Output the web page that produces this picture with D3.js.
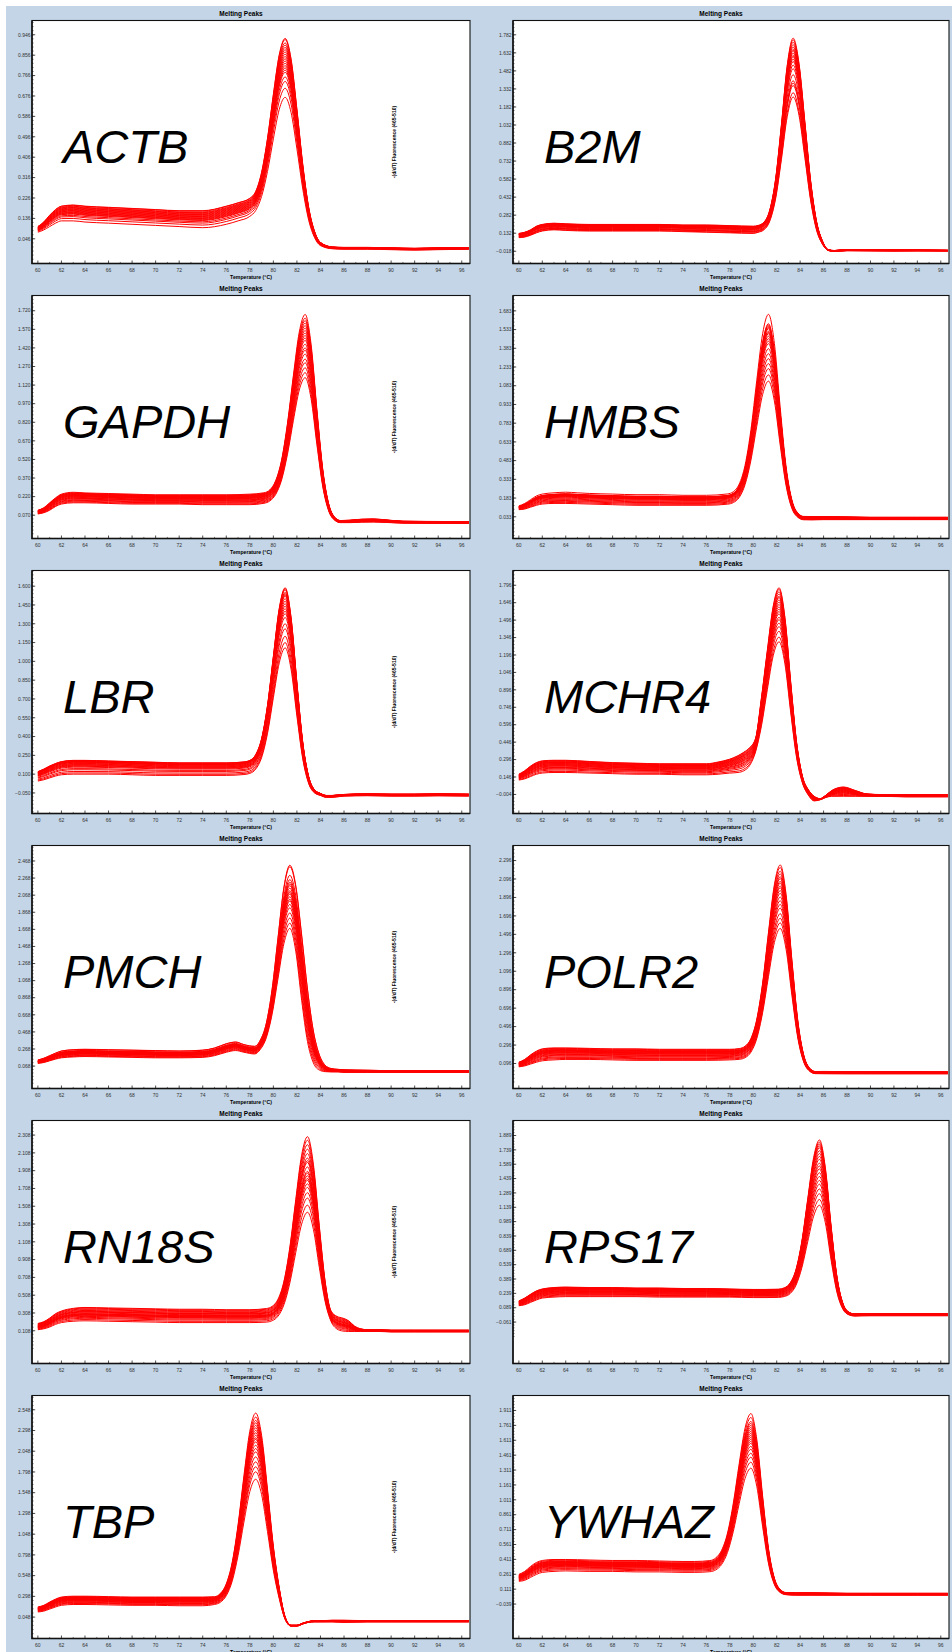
<!DOCTYPE html>
<html lang="en">

<head>
    <meta charset="UTF-8">
    <meta name="viewport" content="width=device-width, initial-scale=1.0">
    <script src="https://cdnjs.cloudflare.com/ajax/libs/d3/7.8.5/d3.min.js"></script>
    <title>Melting Peaks</title>
    <style>
        body { margin: 0; background: #ffffff; }
        svg text { font-family: "Liberation Sans", Arial, sans-serif; }
    </style>
</head>

<body>
    <svg id="chart" width="952" height="1652"></svg>
    <script>
        // shared x axis (temperature, deg C)
        var xTicks = [60, 62, 64, 66, 68, 70, 72, 74, 76, 78, 80, 82, 84, 86, 88, 90, 92, 94, 96];
        var xDomain = [59.5, 96.7];

        // ACTB
        var actbTemp = [60, 60.5, 61, 61.5, 62, 63, 64, 66, 68, 70, 72, 74, 76, 77, 78, 78.5, 79, 79.5, 80, 80.5, 81, 81.5, 82, 82.5, 83, 83.5, 84, 85, 86, 88, 90, 92, 94, 96.6];
        var actbHi = [0.10, 0.12, 0.15, 0.175, 0.19, 0.195, 0.19, 0.185, 0.18, 0.175, 0.17, 0.17, 0.19, 0.205, 0.225, 0.255, 0.339, 0.488, 0.683, 0.858, 0.93, 0.84, 0.617, 0.372, 0.184, 0.078, 0.03, 0.01, 0.008, 0.008, 0.006, 0.004, 0.006, 0.006];
        var actbLo = [0.075, 0.085, 0.10, 0.115, 0.125, 0.125, 0.12, 0.115, 0.11, 0.105, 0.10, 0.095, 0.11, 0.125, 0.145, 0.171, 0.233, 0.343, 0.487, 0.617, 0.67, 0.604, 0.443, 0.265, 0.128, 0.051, 0.016, 0.002, 0, 0, -0.002, -0.004, -0.002, 0];
        var actbPeaks = [0.93, 0.925, 0.91, 0.90, 0.89, 0.88, 0.87, 0.86, 0.85, 0.84, 0.83, 0.82, 0.81, 0.80, 0.79, 0.78, 0.76, 0.74, 0.71, 0.67];
        var actbTicks = [0.046, 0.136, 0.226, 0.316, 0.406, 0.496, 0.586, 0.676, 0.766, 0.856, 0.946];
        var actbRange = [-0.063, 1.009];

        // B2M
        var b2mTemp = [60, 60.5, 61, 61.5, 62, 63, 64, 66, 68, 70, 72, 74, 76, 78, 80, 80.4, 80.9, 81.4, 81.9, 82.4, 82.9, 83.4, 83.9, 84.4, 84.9, 85.4, 85.9, 86.4, 86.9, 88, 90, 92, 94, 96.6];
        var b2mHi = [0.13, 0.14, 0.16, 0.19, 0.205, 0.215, 0.21, 0.205, 0.205, 0.205, 0.205, 0.20, 0.20, 0.195, 0.19, 0.196, 0.223, 0.322, 0.579, 1.033, 1.530, 1.754, 1.546, 1.060, 0.563, 0.229, 0.068, -0.005, -0.012, -0.004, -0.006, -0.008, -0.008, -0.01];
        var b2mLo = [0.095, 0.10, 0.115, 0.135, 0.15, 0.16, 0.155, 0.15, 0.15, 0.15, 0.15, 0.145, 0.14, 0.135, 0.13, 0.139, 0.159, 0.231, 0.416, 0.744, 1.103, 1.265, 1.114, 0.762, 0.401, 0.158, 0.041, -0.012, -0.02, -0.014, -0.015, -0.016, -0.015, -0.016];
        var b2mPeaks = [1.754, 1.74, 1.72, 1.70, 1.68, 1.66, 1.65, 1.63, 1.61, 1.60, 1.58, 1.56, 1.53, 1.50, 1.45, 1.40, 1.38, 1.36, 1.30, 1.265];
        var b2mTicks = [-0.018, 0.132, 0.282, 0.432, 0.582, 0.732, 0.882, 1.032, 1.182, 1.332, 1.482, 1.632, 1.782];
        var b2mRange = [-0.120, 1.901];

        // GAPDH
        var gapdhTemp = [60, 60.5, 61, 61.5, 62, 63, 64, 66, 68, 70, 72, 74, 76, 78, 79.2, 79.7, 80.2, 80.7, 81.2, 81.7, 82.2, 82.7, 83.2, 83.7, 84.2, 84.7, 85.2, 85.7, 86.5, 87.5, 88.5, 89.5, 91, 93, 96.6];
        var gapdhHi = [0.11, 0.13, 0.17, 0.21, 0.24, 0.255, 0.25, 0.245, 0.24, 0.235, 0.235, 0.235, 0.235, 0.24, 0.251, 0.275, 0.350, 0.517, 0.813, 1.198, 1.548, 1.69, 1.451, 0.920, 0.436, 0.161, 0.055, 0.027, 0.03, 0.038, 0.04, 0.033, 0.022, 0.02, 0.018];
        var gapdhLo = [0.08, 0.09, 0.11, 0.14, 0.16, 0.17, 0.17, 0.165, 0.16, 0.16, 0.16, 0.155, 0.155, 0.155, 0.166, 0.185, 0.238, 0.355, 0.563, 0.834, 1.080, 1.18, 1.012, 0.638, 0.298, 0.104, 0.030, 0.010, 0.01, 0.014, 0.015, 0.012, 0.006, 0.005, 0.004];
        var gapdhPeaks = [1.69, 1.66, 1.64, 1.62, 1.60, 1.58, 1.56, 1.54, 1.52, 1.50, 1.48, 1.45, 1.42, 1.40, 1.37, 1.33, 1.30, 1.26, 1.22, 1.18];
        var gapdhTicks = [0.070, 0.220, 0.370, 0.520, 0.670, 0.820, 0.970, 1.120, 1.270, 1.420, 1.570, 1.720];
        var gapdhRange = [-0.118, 1.843];

        // HMBS
        var hmbsTemp = [60, 60.5, 61, 61.5, 62, 63, 64, 65, 66, 68, 70, 72, 74, 76, 77.8, 78.3, 78.8, 79.3, 79.8, 80.3, 80.8, 81.3, 81.8, 82.3, 82.8, 83.3, 83.8, 84.3, 85, 86, 88, 90, 92, 94, 96.6];
        var hmbsHi = [0.12, 0.14, 0.17, 0.20, 0.215, 0.225, 0.23, 0.225, 0.22, 0.215, 0.21, 0.21, 0.205, 0.205, 0.216, 0.234, 0.295, 0.446, 0.730, 1.128, 1.500, 1.655, 1.423, 0.906, 0.435, 0.167, 0.064, 0.036, 0.035, 0.035, 0.033, 0.03, 0.03, 0.03, 0.03];
        var hmbsLo = [0.09, 0.095, 0.11, 0.125, 0.135, 0.14, 0.14, 0.138, 0.135, 0.13, 0.125, 0.125, 0.125, 0.125, 0.134, 0.147, 0.188, 0.291, 0.486, 0.759, 1.014, 1.12, 0.961, 0.606, 0.283, 0.099, 0.029, 0.009, 0.008, 0.01, 0.01, 0.01, 0.01, 0.01, 0.01];
        var hmbsPeaks = [1.655, 1.58, 1.57, 1.56, 1.55, 1.54, 1.52, 1.51, 1.50, 1.48, 1.46, 1.44, 1.42, 1.38, 1.34, 1.30, 1.26, 1.22, 1.17, 1.12];
        var hmbsTicks = [0.033, 0.183, 0.333, 0.483, 0.633, 0.783, 0.933, 1.083, 1.233, 1.383, 1.533, 1.683];
        var hmbsRange = [-0.141, 1.806];

        // LBR
        var lbrTemp = [60, 60.5, 61, 61.5, 62, 63, 64, 66, 68, 70, 72, 74, 76, 77.5, 78, 78.5, 79, 79.5, 80, 80.5, 81, 81.5, 82, 82.5, 83, 83.5, 84, 84.5, 85, 86, 88, 90, 92, 94, 96.6];
        var lbrHi = [0.12, 0.14, 0.165, 0.185, 0.20, 0.21, 0.21, 0.205, 0.20, 0.195, 0.19, 0.19, 0.19, 0.198, 0.210, 0.256, 0.383, 0.647, 1.040, 1.423, 1.587, 1.352, 0.828, 0.350, 0.079, -0.025, -0.054, -0.07, -0.07, -0.062, -0.058, -0.06, -0.06, -0.058, -0.06];
        var lbrLo = [0.045, 0.055, 0.07, 0.085, 0.095, 0.10, 0.10, 0.10, 0.095, 0.09, 0.09, 0.09, 0.09, 0.097, 0.106, 0.140, 0.232, 0.424, 0.710, 0.988, 1.108, 0.939, 0.563, 0.220, 0.025, -0.05, -0.07, -0.085, -0.085, -0.075, -0.072, -0.075, -0.075, -0.073, -0.075];
        var lbrPeaks = [1.587, 1.58, 1.57, 1.55, 1.54, 1.53, 1.52, 1.50, 1.48, 1.46, 1.44, 1.42, 1.40, 1.38, 1.35, 1.30, 1.26, 1.20, 1.15, 1.108];
        var lbrTicks = [-0.050, 0.100, 0.250, 0.400, 0.550, 0.700, 0.850, 1.000, 1.150, 1.300, 1.450, 1.600];
        var lbrRange = [-0.214, 1.725];

        // MCHR4
        var mchr4Temp = [60, 60.5, 61, 61.5, 62, 63, 64, 66, 68, 70, 72, 74, 76, 77, 78, 78.7, 79.2, 79.7, 80.2, 80.7, 81.2, 81.7, 82.2, 82.7, 83.2, 83.7, 84.2, 84.7, 85.2, 85.7, 86.2, 86.7, 87.7, 88.7, 89.7, 91, 93, 96.6];
        var mchr4Hi = [0.17, 0.20, 0.24, 0.27, 0.285, 0.29, 0.29, 0.28, 0.27, 0.265, 0.26, 0.26, 0.26, 0.275, 0.30, 0.33, 0.36, 0.40, 0.48, 0.83, 1.236, 1.616, 1.774, 1.52, 0.956, 0.442, 0.150, 0.037, -0.02, -0.04, -0.01, 0.03, 0.06, 0.03, 0.0, -0.005, -0.005, -0.005];
        var mchr4Lo = [0.12, 0.13, 0.15, 0.17, 0.18, 0.185, 0.185, 0.18, 0.175, 0.17, 0.17, 0.165, 0.165, 0.17, 0.18, 0.185, 0.20, 0.246, 0.364, 0.587, 0.898, 1.189, 1.31, 1.12, 0.697, 0.311, 0.093, -0.01, -0.06, -0.05, -0.03, -0.02, -0.02, -0.02, -0.02, -0.02, -0.025, -0.025];
        var mchr4Peaks = [1.774, 1.76, 1.74, 1.72, 1.70, 1.69, 1.67, 1.65, 1.63, 1.61, 1.59, 1.57, 1.55, 1.52, 1.50, 1.47, 1.44, 1.40, 1.35, 1.31];
        var mchr4Ticks = [-0.004, 0.146, 0.296, 0.446, 0.596, 0.746, 0.896, 1.046, 1.196, 1.346, 1.496, 1.646, 1.796];
        var mchr4Range = [-0.168, 1.923];

        // PMCH
        var pmchTemp = [60, 60.5, 61, 61.5, 62, 63, 64, 66, 68, 70, 72, 74, 75, 76, 76.8, 77.5, 78.4, 78.9, 79.4, 79.9, 80.4, 80.9, 81.4, 81.9, 82.4, 82.9, 83.4, 83.9, 84.4, 84.9, 85.5, 86, 88, 90, 92, 94, 96.6];
        var pmchHi = [0.14, 0.16, 0.19, 0.22, 0.245, 0.26, 0.265, 0.26, 0.255, 0.25, 0.245, 0.255, 0.28, 0.33, 0.35, 0.32, 0.30, 0.374, 0.569, 0.975, 1.578, 2.166, 2.418, 2.183, 1.605, 0.967, 0.478, 0.202, 0.078, 0.04, 0.03, 0.025, 0.02, 0.015, 0.015, 0.015, 0.015];
        var pmchLo = [0.10, 0.11, 0.13, 0.15, 0.165, 0.175, 0.18, 0.175, 0.17, 0.165, 0.165, 0.17, 0.19, 0.23, 0.25, 0.23, 0.21, 0.265, 0.40, 0.681, 1.098, 1.505, 1.68, 1.413, 0.84, 0.354, 0.105, 0.022, 0.003, 0, 0, -0.005, -0.005, -0.005, -0.005, -0.005, -0.005];
        var pmchPeaks = [2.418, 2.40, 2.30, 2.25, 2.22, 2.20, 2.18, 2.15, 2.12, 2.10, 2.08, 2.05, 2.02, 2.00, 1.96, 1.92, 1.86, 1.80, 1.74, 1.68];
        var pmchTicks = [0.068, 0.268, 0.468, 0.668, 0.868, 1.068, 1.268, 1.468, 1.668, 1.868, 2.068, 2.268, 2.468];
        var pmchRange = [-0.194, 2.649];

        // POLR2
        var polr2Temp = [60, 60.5, 61, 61.5, 62, 63, 64, 66, 68, 70, 72, 74, 76, 78, 78.8, 79.3, 79.8, 80.3, 80.8, 81.3, 81.8, 82.3, 82.8, 83.3, 83.8, 84.3, 84.8, 85.3, 86, 88, 90, 92, 94, 96.6];
        var polr2Hi = [0.11, 0.14, 0.19, 0.23, 0.255, 0.265, 0.265, 0.26, 0.255, 0.255, 0.25, 0.25, 0.25, 0.25, 0.258, 0.284, 0.367, 0.576, 0.969, 1.519, 2.034, 2.248, 1.927, 1.212, 0.560, 0.190, 0.047, 0.009, 0.01, 0.008, 0.006, 0.006, 0.006, 0.005];
        var polr2Lo = [0.06, 0.07, 0.09, 0.11, 0.125, 0.135, 0.14, 0.14, 0.135, 0.13, 0.13, 0.13, 0.13, 0.135, 0.141, 0.159, 0.219, 0.367, 0.648, 1.040, 1.407, 1.56, 1.334, 0.832, 0.373, 0.114, 0.013, -0.014, -0.015, -0.016, -0.016, -0.016, -0.016, -0.016];
        var polr2Peaks = [2.248, 2.22, 2.18, 2.15, 2.12, 2.10, 2.07, 2.05, 2.02, 2.00, 1.97, 1.94, 1.90, 1.86, 1.82, 1.78, 1.72, 1.67, 1.62, 1.56];
        var polr2Ticks = [0.096, 0.296, 0.496, 0.696, 0.896, 1.096, 1.296, 1.496, 1.696, 1.896, 2.096, 2.296];
        var polr2Range = [-0.175, 2.459];

        // RN18S
        var rn18sTemp = [60, 60.5, 61, 61.5, 62, 63, 64, 66, 68, 70, 72, 74, 76, 78, 79.4, 79.9, 80.4, 80.9, 81.4, 81.9, 82.4, 82.9, 83.4, 83.9, 84.4, 84.9, 85.4, 85.9, 86.4, 86.9, 87.4, 88, 89, 90, 92, 94, 96.6];
        var rn18sHi = [0.19, 0.21, 0.25, 0.30, 0.33, 0.36, 0.37, 0.365, 0.36, 0.355, 0.35, 0.35, 0.345, 0.345, 0.358, 0.383, 0.464, 0.666, 1.048, 1.582, 2.082, 2.29, 1.980, 1.290, 0.660, 0.33, 0.27, 0.25, 0.22, 0.16, 0.13, 0.12, 0.12, 0.115, 0.115, 0.115, 0.115];
        var rn18sLo = [0.12, 0.13, 0.15, 0.18, 0.20, 0.215, 0.22, 0.215, 0.21, 0.205, 0.20, 0.20, 0.20, 0.20, 0.205, 0.221, 0.273, 0.402, 0.646, 0.987, 1.307, 1.44, 1.248, 0.822, 0.434, 0.213, 0.128, 0.105, 0.10, 0.10, 0.10, 0.10, 0.10, 0.095, 0.095, 0.095, 0.095];
        var rn18sPeaks = [2.29, 2.25, 2.20, 2.15, 2.10, 2.05, 2.02, 2.00, 1.95, 1.90, 1.88, 1.85, 1.82, 1.80, 1.76, 1.72, 1.66, 1.60, 1.52, 1.44];
        var rn18sTicks = [0.108, 0.308, 0.508, 0.708, 0.908, 1.108, 1.308, 1.508, 1.708, 1.908, 2.108, 2.308];
        var rn18sRange = [-0.260, 2.472];

        // RPS17
        var rps17Temp = [60, 60.5, 61, 61.5, 62, 63, 64, 66, 68, 70, 72, 74, 76, 78, 80, 81, 82.15, 82.65, 83.15, 83.65, 84.15, 84.65, 85.15, 85.65, 86.15, 86.65, 87.15, 87.65, 88.15, 88.65, 89.2, 90, 92, 94, 96.6];
        var rps17Hi = [0.16, 0.19, 0.23, 0.265, 0.285, 0.30, 0.305, 0.30, 0.30, 0.295, 0.295, 0.29, 0.29, 0.285, 0.28, 0.28, 0.283, 0.297, 0.349, 0.491, 0.788, 1.229, 1.659, 1.843, 1.553, 0.932, 0.405, 0.134, 0.044, 0.024, 0.025, 0.025, 0.025, 0.025, 0.025];
        var rps17Lo = [0.11, 0.12, 0.145, 0.17, 0.19, 0.20, 0.205, 0.205, 0.205, 0.205, 0.20, 0.20, 0.20, 0.20, 0.195, 0.195, 0.197, 0.206, 0.237, 0.325, 0.509, 0.781, 1.046, 1.16, 0.976, 0.58, 0.245, 0.073, 0.015, 0.002, 0.004, 0.005, 0.005, 0.005, 0.005];
        var rps17Peaks = [1.843, 1.82, 1.80, 1.78, 1.76, 1.73, 1.70, 1.67, 1.64, 1.60, 1.57, 1.54, 1.50, 1.46, 1.42, 1.38, 1.33, 1.28, 1.22, 1.16];
        var rps17Ticks = [-0.061, 0.089, 0.239, 0.389, 0.539, 0.689, 0.839, 0.989, 1.139, 1.289, 1.439, 1.589, 1.739, 1.889];
        var rps17Range = [-0.494, 2.046];

        // TBP
        var tbpTemp = [60, 60.5, 61, 61.5, 62, 63, 64, 66, 68, 70, 72, 74, 75, 75.5, 76, 76.5, 77, 77.5, 78, 78.5, 79, 79.5, 80, 80.5, 81, 81.5, 82, 82.5, 83, 83.5, 84, 85, 86, 88, 90, 92, 94, 96.6];
        var tbpHi = [0.17, 0.19, 0.23, 0.265, 0.29, 0.30, 0.30, 0.295, 0.29, 0.29, 0.29, 0.29, 0.294, 0.334, 0.449, 0.706, 1.160, 1.753, 2.290, 2.508, 2.24, 1.593, 0.903, 0.40, 0.05, -0.05, -0.05, -0.025, -0.005, 0.005, 0.005, 0.01, 0.01, 0.005, 0.005, 0.005, 0.005, 0.005];
        var tbpLo = [0.11, 0.12, 0.145, 0.17, 0.19, 0.20, 0.20, 0.195, 0.19, 0.19, 0.185, 0.185, 0.20, 0.227, 0.306, 0.48, 0.79, 1.195, 1.561, 1.71, 1.526, 1.08, 0.61, 0.27, 0.02, -0.06, -0.06, -0.035, -0.015, -0.01, -0.01, -0.01, -0.015, -0.01, -0.01, -0.01, -0.01, -0.01];
        var tbpPeaks = [2.508, 2.46, 2.42, 2.39, 2.36, 2.33, 2.30, 2.27, 2.24, 2.21, 2.19, 2.16, 2.12, 2.08, 2.04, 1.98, 1.92, 1.86, 1.80, 1.71];
        var tbpTicks = [0.048, 0.298, 0.548, 0.798, 1.048, 1.298, 1.548, 1.798, 2.048, 2.298, 2.548];
        var tbpRange = [-0.210, 2.720];

        // YWHAZ
        var ywhazTemp = [60, 60.5, 61, 61.5, 62, 63, 64, 66, 68, 70, 72, 74, 75, 76.3, 76.8, 77.3, 77.8, 78.3, 78.8, 79.3, 79.8, 80.3, 80.8, 81.3, 81.8, 82.3, 82.8, 83.6, 85, 88, 90, 92, 94, 96.6];
        var ywhazHi = [0.26, 0.29, 0.34, 0.38, 0.40, 0.41, 0.41, 0.405, 0.40, 0.40, 0.395, 0.39, 0.39, 0.399, 0.426, 0.503, 0.675, 0.979, 1.375, 1.734, 1.88, 1.621, 1.046, 0.521, 0.223, 0.108, 0.077, 0.075, 0.075, 0.07, 0.07, 0.07, 0.07, 0.07];
        var ywhazLo = [0.19, 0.20, 0.23, 0.26, 0.28, 0.29, 0.295, 0.29, 0.29, 0.285, 0.285, 0.28, 0.28, 0.287, 0.305, 0.36, 0.481, 0.695, 0.974, 1.227, 1.33, 1.147, 0.74, 0.369, 0.158, 0.077, 0.055, 0.05, 0.05, 0.05, 0.05, 0.05, 0.05, 0.05];
        var ywhazPeaks = [1.88, 1.84, 1.80, 1.78, 1.76, 1.74, 1.72, 1.70, 1.68, 1.66, 1.64, 1.62, 1.60, 1.58, 1.55, 1.52, 1.48, 1.44, 1.39, 1.33];
        var ywhazTicks = [-0.039, 0.111, 0.261, 0.411, 0.561, 0.711, 0.861, 1.011, 1.161, 1.311, 1.461, 1.611, 1.761, 1.911];
        var ywhazRange = [-0.386, 2.062];

        var panels = [
            { name: "ACTB", temp: actbTemp, hi: actbHi, lo: actbLo, peaks: actbPeaks, ticks: actbTicks, range: actbRange },
            { name: "B2M", temp: b2mTemp, hi: b2mHi, lo: b2mLo, peaks: b2mPeaks, ticks: b2mTicks, range: b2mRange },
            { name: "GAPDH", temp: gapdhTemp, hi: gapdhHi, lo: gapdhLo, peaks: gapdhPeaks, ticks: gapdhTicks, range: gapdhRange },
            { name: "HMBS", temp: hmbsTemp, hi: hmbsHi, lo: hmbsLo, peaks: hmbsPeaks, ticks: hmbsTicks, range: hmbsRange },
            { name: "LBR", temp: lbrTemp, hi: lbrHi, lo: lbrLo, peaks: lbrPeaks, ticks: lbrTicks, range: lbrRange },
            { name: "MCHR4", temp: mchr4Temp, hi: mchr4Hi, lo: mchr4Lo, peaks: mchr4Peaks, ticks: mchr4Ticks, range: mchr4Range },
            { name: "PMCH", temp: pmchTemp, hi: pmchHi, lo: pmchLo, peaks: pmchPeaks, ticks: pmchTicks, range: pmchRange },
            { name: "POLR2", temp: polr2Temp, hi: polr2Hi, lo: polr2Lo, peaks: polr2Peaks, ticks: polr2Ticks, range: polr2Range },
            { name: "RN18S", temp: rn18sTemp, hi: rn18sHi, lo: rn18sLo, peaks: rn18sPeaks, ticks: rn18sTicks, range: rn18sRange },
            { name: "RPS17", temp: rps17Temp, hi: rps17Hi, lo: rps17Lo, peaks: rps17Peaks, ticks: rps17Ticks, range: rps17Range },
            { name: "TBP", temp: tbpTemp, hi: tbpHi, lo: tbpLo, peaks: tbpPeaks, ticks: tbpTicks, range: tbpRange },
            { name: "YWHAZ", temp: ywhazTemp, hi: ywhazHi, lo: ywhazLo, peaks: ywhazPeaks, ticks: ywhazTicks, range: ywhazRange }
        ];

        var svg = d3.select("#chart");
        var colLeft = [32, 513];
        var colWidth = [438, 436];
        var rowTop = 20.5, rowStep = 275, boxH = 243;

        svg.append("rect")
            .attr("x", 6).attr("y", 6)
            .attr("width", 946).attr("height", 1646)
            .attr("fill", "#c3d5e6");

        var fmt = d3.format(".3f");

        panels.forEach(function (p, i) {
            var col = i % 2, row = Math.floor(i / 2);
            var w = colWidth[col];
            var g = svg.append("g")
                .attr("transform", "translate(" + colLeft[col] + "," + (rowTop + row * rowStep) + ")");

            var x = d3.scaleLinear().domain(xDomain).range([0, w]);
            var y = d3.scaleLinear().domain(p.range).range([boxH, 0]);

            g.append("rect")
                .attr("width", w).attr("height", boxH)
                .attr("fill", "#ffffff");

            g.append("clipPath").attr("id", "clip" + i)
                .append("rect").attr("width", w).attr("height", boxH);

            // every run is drawn between the lowest and highest traces
            var hiMax = d3.max(p.hi), loMax = d3.max(p.lo);
            var runs = p.peaks.map(function (pk) {
                var t = (pk - loMax) / (hiMax - loMax);
                return p.temp.map(function (T, k) {
                    return [T, p.lo[k] + t * (p.hi[k] - p.lo[k])];
                });
            });

            var line = d3.line()
                .x(function (d) { return x(d[0]); })
                .y(function (d) { return y(d[1]); })
                .curve(d3.curveMonotoneX);

            g.append("g").attr("clip-path", "url(#clip" + i + ")")
                .selectAll("path")
                .data(runs)
                .enter()
                .append("path")
                .attr("d", line)
                .attr("fill", "none")
                .attr("stroke", "#ff0000")
                .attr("stroke-width", 1);

            // y axis: ticks inside the frame, minor ticks every fifth of a step
            var step = p.ticks[1] - p.ticks[0];
            var minor = d3.range(p.ticks[0] - step, p.range[1], step / 5)
                .filter(function (v) { return v > p.range[0] && v < p.range[1]; });
            g.selectAll("line.ymin").data(minor).enter().append("line")
                .attr("x1", 0).attr("x2", 1.6)
                .attr("y1", function (d) { return y(d); }).attr("y2", function (d) { return y(d); })
                .attr("stroke", "#333").attr("stroke-width", 0.6);
            g.selectAll("line.ymaj").data(p.ticks).enter().append("line")
                .attr("x1", 0).attr("x2", 3.2)
                .attr("y1", function (d) { return y(d); }).attr("y2", function (d) { return y(d); })
                .attr("stroke", "#222").attr("stroke-width", 0.8);
            g.selectAll("text.ylab").data(p.ticks).enter().append("text")
                .attr("x", -1.5)
                .attr("y", function (d) { return y(d); })
                .attr("dy", "0.35em")
                .attr("text-anchor", "end")
                .attr("font-size", 5)
                .attr("fill", "#333")
                .text(function (d) { return fmt(d); });

            // x axis
            g.selectAll("line.xmaj").data(xTicks).enter().append("line")
                .attr("x1", function (d) { return x(d); }).attr("x2", function (d) { return x(d); })
                .attr("y1", boxH).attr("y2", boxH - 3)
                .attr("stroke", "#222").attr("stroke-width", 0.8);
            g.selectAll("line.xmin").data(xTicks.map(function (d) { return d + 1; }).filter(function (d) { return d < xDomain[1]; }))
                .enter().append("line")
                .attr("x1", function (d) { return x(d); }).attr("x2", function (d) { return x(d); })
                .attr("y1", boxH).attr("y2", boxH - 1.6)
                .attr("stroke", "#333").attr("stroke-width", 0.6);
            g.selectAll("text.xlab").data(xTicks).enter().append("text")
                .attr("x", function (d) { return x(d); })
                .attr("y", boxH + 8.5)
                .attr("text-anchor", "middle")
                .attr("font-size", 5)
                .attr("fill", "#333")
                .text(function (d) { return d; });

            // frame
            g.append("rect")
                .attr("width", w).attr("height", boxH)
                .attr("fill", "none")
                .attr("stroke", "#111").attr("stroke-width", 1.1);
            g.append("path")
                .attr("d", "M0,0V" + boxH + "H" + w)
                .attr("fill", "none")
                .attr("stroke", "#111").attr("stroke-width", 1.5);

            g.append("text")
                .attr("x", w / 2 - 10).attr("y", -4.5)
                .attr("text-anchor", "middle")
                .attr("font-size", 6.5).attr("font-weight", "bold")
                .text("Melting Peaks");
            g.append("text")
                .attr("x", w / 2).attr("y", boxH + 15)
                .attr("text-anchor", "middle")
                .attr("font-size", 5.2).attr("font-weight", "bold")
                .text("Temperature (°C)");

            if (col === 0) {
                g.append("text")
                    .attr("transform", "translate(" + 364 + "," + (boxH / 2) + ") rotate(-90)")
                    .attr("text-anchor", "middle")
                    .attr("font-size", 5).attr("font-weight", "bold")
                    .text("-(d/dT) Fluorescence (465-510)");
            }

            g.append("text")
                .attr("x", 31).attr("y", 142)
                .attr("font-size", 47)
                .attr("font-style", "italic")
                .attr("fill", "#000")
                .text(p.name);
        });
    </script>
</body>

</html>
